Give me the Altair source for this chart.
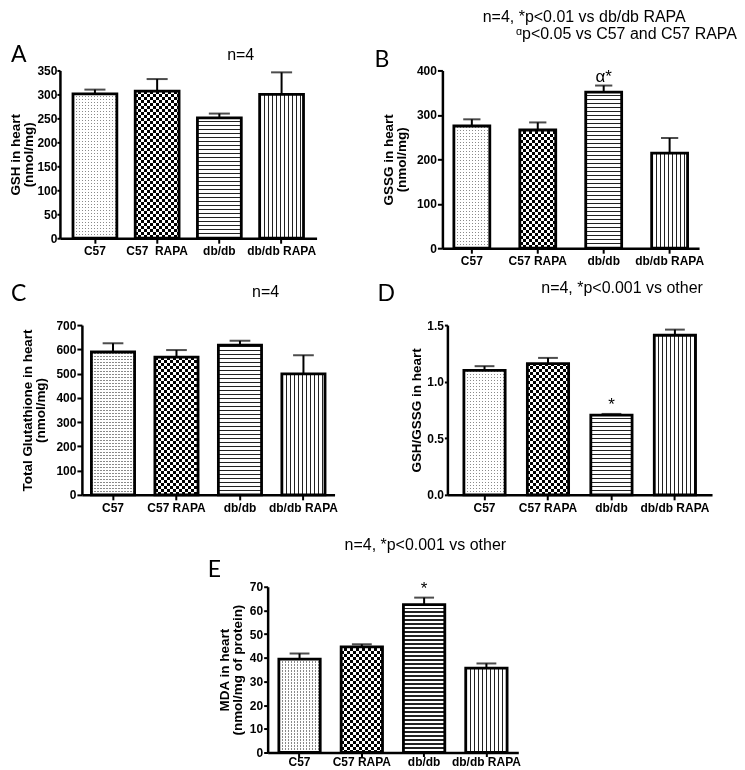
import math
import altair as alt
import pandas as pd

FONT = "Liberation Sans"
LETTER_FONT = "Lato"

groups = ["C57", "C57 RAPA", "db/db", "db/db RAPA"]
groups_a = ["C57", "C57\u00a0\u00a0RAPA", "db/db", "db/db RAPA"]
patterns = ["dots", "checker", "hlines", "vlines"]

gsh_mean = [301, 307, 251, 300]
gsh_sem = [9, 25, 9, 46]
gssg_mean = [275, 266, 351, 214]
gssg_sem = [15, 17, 15, 34]
total_mean = [589, 568, 617, 499]
total_sem = [36, 29, 18, 77]
ratio_mean = [1.10, 1.16, 0.705, 1.41]
ratio_sem = [0.037, 0.05, 0.01, 0.05]
mda_mean = [39.4, 44.6, 62.4, 35.6]
mda_sem = [2.4, 1.1, 3.0, 2.0]

notes_none = ["", "", "", ""]
notes_b = ["", "", "\u03b1*", ""]
notes_star = ["", "", "*", ""]

ticks_a = [0, 50, 100, 150, 200, 250, 300, 350]
ticks_b = [0, 100, 200, 300, 400]
ticks_c = [0, 100, 200, 300, 400, 500, 600, 700]
ticks_d = [0, 0.5, 1.0, 1.5]
ticks_e = [0, 10, 20, 30, 40, 50, 60, 70]


def stripe_gradient(length_px, period_px, on_frac, on_color, off_color, direction):
    length_px = max(length_px, 1.0)
    f = period_px / length_px
    n = max(1, int(math.ceil(1.0 / f)))
    stops = []
    for k in range(n):
        a = min(1.0, k * f)
        b = min(1.0, a + on_frac * f)
        c = min(1.0, (k + 1) * f)
        stops += [
            {"offset": round(a, 5), "color": on_color},
            {"offset": round(b, 5), "color": on_color},
            {"offset": round(b, 5), "color": off_color},
            {"offset": round(c, 5), "color": off_color},
        ]
    if direction == "x":
        coords = {"x1": 0, "y1": 0, "x2": 1, "y2": 0}
    else:
        coords = {"x1": 0, "y1": 1, "x2": 0, "y2": 0}
    return {"gradient": "linear", "stops": stops, **coords}


def pattern_fills(kind, w, h):
    if kind == "dots":
        return [
            (stripe_gradient(w, 3, 0.45, "#8a8a8a", "white", "x"), None),
            (stripe_gradient(h, 3, 0.45, "#8a8a8a", "white", "y"), "lighten"),
        ]
    if kind == "checker":
        return [
            (stripe_gradient(w, 6, 0.5, "black", "white", "x"), None),
            (stripe_gradient(h, 6, 0.5, "white", "black", "y"), "difference"),
        ]
    if kind == "hlines":
        return [(stripe_gradient(h, 4, 0.3, "#222222", "white", "y"), None)]
    return [(stripe_gradient(w, 4, 0.3, "#222222", "white", "x"), None)]


def text_layer(text, x, y, size, align="left", font=FONT, color="black"):
    return alt.Chart(pd.DataFrame({"t": [text]})).mark_text(
        align=align, baseline="alphabetic", font=font, fontSize=size, color=color
    ).encode(x=alt.value(x), y=alt.value(y), text="t:N")


def panel(cats, means, sems, notes, ymax, yticks, yfmt, H, W, pi, po, ytitle,
          annotations, tick=4, tpad=4, lpad=1, xoff=0, xtick=5, xlpad=2.5):
    upper = [m + s for m, s in zip(means, sems)]
    df = pd.DataFrame({"group": cats, "mean": means, "upper": upper,
                       "note": notes, "idx": list(range(4))})
    step = W / (4 - pi + 2 * po)
    bw = step * (1 - pi)

    xaxis = alt.Axis(title=None, labelAngle=0, labelFont=FONT, labelFontSize=12,
                     labelFontWeight="bold", labelColor="black", labelPadding=xlpad,
                     labelLimit=0, tickColor="black", tickWidth=2, tickSize=xtick,
                     domainColor="black", domainWidth=2.5)
    yaxis = alt.Axis(title=ytitle, values=yticks, format=yfmt, grid=False,
                     offset=-xoff,
                     labelFont=FONT, labelFontSize=12, labelFontWeight="bold",
                     labelColor="black", labelPadding=lpad, tickColor="black",
                     tickWidth=2, tickSize=tick, domainColor="black", domainWidth=2.5,
                     titleFont=FONT, titleFontSize=13.5, titleFontWeight="bold",
                     titleColor="black", titlePadding=tpad, titleLineHeight=13)
    X = alt.X("group:N", sort=cats,
              scale=alt.Scale(paddingInner=pi, paddingOuter=po, range=[xoff, xoff + W]),
              axis=xaxis)
    ysc = alt.Scale(domain=[0, ymax], nice=False, zero=True)
    Ym = alt.Y("mean:Q", scale=ysc, axis=yaxis)
    Yu = alt.Y("upper:Q", scale=ysc, axis=yaxis)

    base = alt.Chart(df)
    layers = []
    for i, kind in enumerate(patterns):
        bh = means[i] / ymax * H
        for fill, blend in pattern_fills(kind, bw, bh):
            kw = {"fill": fill, "strokeWidth": 0}
            if blend:
                kw["blend"] = blend
            layers.append(
                base.transform_filter(alt.datum.idx == i).mark_bar(**kw).encode(x=X, y=Ym)
            )
    layers.append(base.mark_rule(color="black", strokeWidth=2).encode(x=X, y=Ym, y2="upper:Q"))
    layers.append(base.mark_tick(color="black", thickness=2, size=bw * 0.48).encode(x=X, y=Yu))
    layers.append(base.mark_bar(fillOpacity=0, stroke="black", strokeWidth=2.8).encode(x=X, y=Ym))
    if any(notes):
        layers.append(
            base.transform_filter(alt.datum.note != "").mark_text(
                dy=-4, baseline="alphabetic", font=FONT, fontSize=17, color="black"
            ).encode(x=X, y=Yu, text="note:N")
        )
    for a in annotations:
        a = list(a)
        a[1] = a[1] + xoff
        layers.append(text_layer(*a))
    return alt.layer(*layers).properties(width=W + xoff, height=H)


panel_a = panel(
    groups_a, gsh_mean, gsh_sem, notes_none, 350, ticks_a, "d", 168, 257, 0.295, 0.21,
    ["GSH in heart", "(nmol/mg)"],
    [("A", -49, -8, 23, "left", LETTER_FONT), ("n=4", 181, -10, 16, "center")],
    tick=3, tpad=1, lpad=0,
)
panel_b = panel(
    groups, gssg_mean, gssg_sem, notes_b, 400, ticks_b, "d", 178, 257, 0.455, 0.174,
    ["GSSG in heart", "(nmol/mg)"],
    [("B", -68, -3, 23, "left", LETTER_FONT),
     ("n=4, *p<0.01 vs db/db RAPA", 142, -49, 16, "center"),
     ("\u1d45p<0.05 vs C57 and C57 RAPA", 295, -31, 16, "right")],
    tick=5, tpad=8, lpad=1,
)
panel_c = panel(
    groups, total_mean, total_sem, notes_none, 700, ticks_c, "d", 170, 253, 0.32, 0.15,
    ["Total Glutathione in heart", "(nmol/mg)"],
    [("C", -71, -24, 23, "left", LETTER_FONT), ("n=4", 184, -28, 16, "center"),
     (".", 0, 197, 10, "left", FONT, "white")],
    tick=5, tpad=8, lpad=1, xoff=22,
)
panel_d = panel(
    groups, ratio_mean, ratio_sem, notes_star, 1.5, ticks_d, ".1f", 170, 265, 0.35, 0.26,
    "GSH/GSSG in heart",
    [("D", -70, -24, 23, "left", LETTER_FONT),
     ("n=4, *p<0.001 vs other", 94, -32, 16, "left")],
    tick=3, tpad=3, lpad=1,
)
panel_e = panel(
    groups, mda_mean, mda_sem, notes_star, 70, ticks_e, "d", 166, 251, 0.336, 0.18,
    ["MDA in heart", "(nmol/mg of protein)"],
    [("E", -60, -10, 23, "left", LETTER_FONT),
     ("n=4, *p<0.001 vs other", 77, -37, 16, "left")],
    tick=4, tpad=5, lpad=1, xoff=208, xtick=4, xlpad=0.5,
)

row1 = alt.hconcat(panel_a, panel_b, spacing=126, bounds="flush")
row2 = alt.hconcat(panel_c, panel_d, spacing=113, bounds="flush")

chart = alt.vconcat(row1, row2, panel_e, spacing=13, bounds="full").properties(
    padding=0, background="white"
).configure_view(strokeWidth=0)

chart.save("out.html", embed_options={"renderer": "svg", "actions": False})
